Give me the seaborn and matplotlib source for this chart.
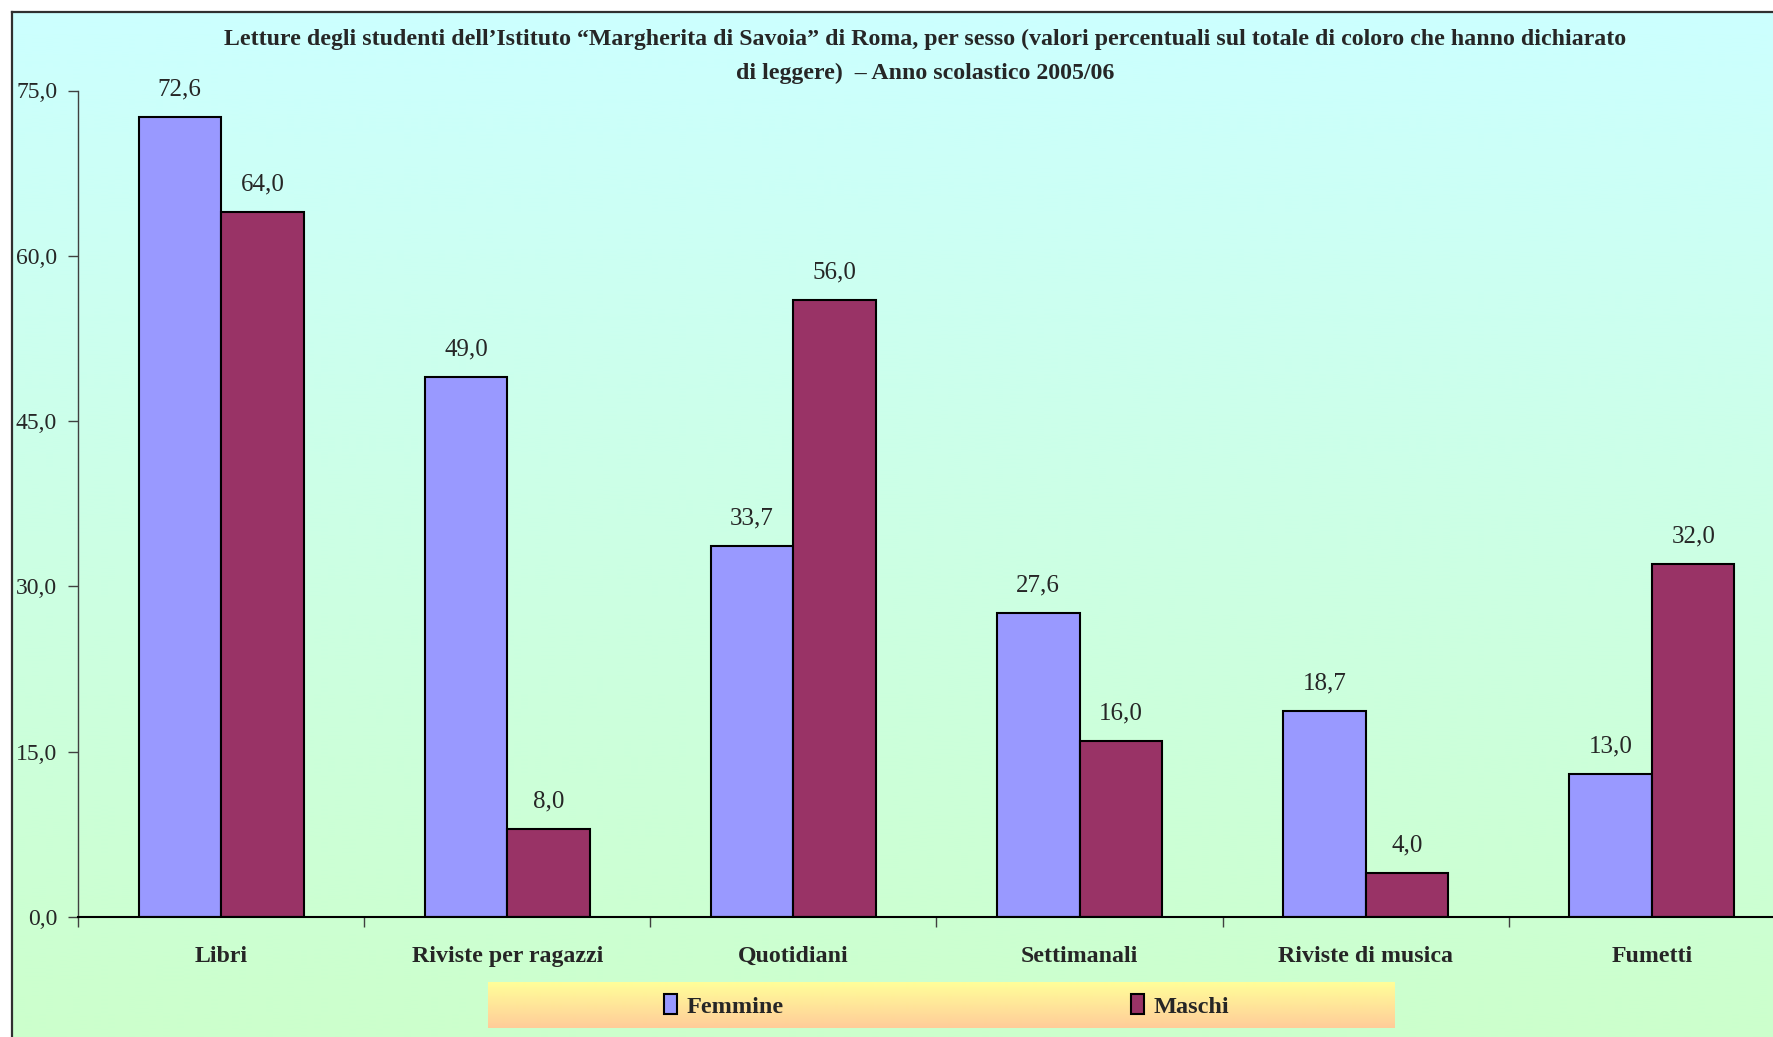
import numpy as np
import pandas as pd
import matplotlib
matplotlib.use("Agg")
import matplotlib.pyplot as plt
import seaborn as sns
from matplotlib.ticker import FuncFormatter

# --- data ---------------------------------------------------------------
categories = ["Libri", "Riviste per ragazzi", "Quotidiani", "Settimanali",
              "Riviste di musica", "Fumetti"]
femmine = [72.6, 49.0, 33.7, 27.6, 18.7, 13.0]
maschi = [64.0, 8.0, 56.0, 16.0, 4.0, 32.0]
series = ["Femmine", "Maschi"]
y_ticks = [0, 15, 30, 45, 60, 75]
title = ("Letture degli studenti dell’Istituto “Margherita di Savoia” di Roma, per sesso "
         "(valori percentuali sul totale di coloro che hanno dichiarato\n"
         "di leggere)  – Anno scolastico 2005/06")

colors = ["#9999FF", "#993366"]

df = pd.DataFrame({
    "Categoria": categories * 2,
    "Sesso": [series[0]] * len(categories) + [series[1]] * len(categories),
    "Valore": femmine + maschi,
})

sns.set_theme(style="white")
plt.rcParams["font.family"] = ["Liberation Serif", "DejaVu Serif"]

W, H = 1774, 1037
fig = plt.figure(figsize=(W / 100, H / 100), dpi=100)


def vgradient(top_rgb, bottom_rgb, n=256):
    t = np.linspace(0, 1, n)[:, None, None]
    top = np.array(top_rgb, float)[None, None, :] / 255
    bot = np.array(bottom_rgb, float)[None, None, :] / 255
    return top * (1 - t) + bot * t


def fmt_it(v):
    return f"{v:.1f}".replace(".", ",")


# chart area background: cyan to pale green
bg = fig.add_axes([12 / W, 0, 1 - 12 / W, 1 - 12 / H], zorder=0)
bg.imshow(vgradient((204, 255, 255), (204, 255, 204)), aspect="auto",
          extent=[0, 1, 0, 1], interpolation="bilinear")
bg.set_xlim(0, 1)
bg.set_ylim(0, 1)
bg.set_xticks([])
bg.set_yticks([])
for s in ["right", "bottom"]:
    bg.spines[s].set_visible(False)
for s in ["left", "top"]:
    bg.spines[s].set_linewidth(1.6)
    bg.spines[s].set_color("#303030")

# legend background: yellow to peach
lg = fig.add_axes([488 / W, (H - 1028) / H, (1395 - 488) / W, 46 / H], zorder=1)
lg.imshow(vgradient((255, 255, 153), (255, 204, 153)), aspect="auto",
          extent=[0, 1, 0, 1], interpolation="bilinear")
lg.axis("off")

# main plot
ax = fig.add_axes([78 / W, (H - 917) / H, (1795 - 78) / W, (917 - 90.5) / H], zorder=2)
ax.patch.set_alpha(0)
sns.barplot(data=df, x="Categoria", y="Valore", hue="Sesso", palette=colors,
            saturation=1, width=0.577, gap=0, edgecolor="black", linewidth=1.5,
            errorbar=None, ax=ax)

for container in ax.containers:
    ax.bar_label(container, labels=[fmt_it(v) for v in container.datavalues],
                 padding=12, fontsize=18)

ax.set_xlim(-0.5, len(categories) - 0.5)
ax.set_ylim(0, 75)
ax.set_yticks(y_ticks)
ax.yaxis.set_major_formatter(FuncFormatter(lambda v, p: fmt_it(v)))
ax.set_xticks(np.arange(-0.5, len(categories), 1.0))
ax.set_xticks(np.arange(len(categories)), minor=True)
ax.set_xticklabels(categories, minor=True, fontweight="bold")
ax.tick_params(axis="x", which="major", bottom=True, length=7, width=1,
               color="#404040", labelbottom=False)
ax.tick_params(axis="x", which="minor", bottom=True, length=0, pad=21, labelsize=17.2)
ax.tick_params(axis="y", left=True, length=7, width=1, color="#404040",
               pad=8, labelsize=17)
ax.set_xlabel("")
ax.set_ylabel("")
ax.grid(False)
for s in ["top", "right"]:
    ax.spines[s].set_visible(False)
ax.spines["left"].set_color("#404040")
ax.spines["left"].set_linewidth(1)
ax.spines["bottom"].set_color("black")
ax.spines["bottom"].set_linewidth(1.5)

handles, labels = ax.get_legend_handles_labels()
if ax.legend_ is not None:
    ax.legend_.remove()
leg = ax.legend(handles, labels, loc="center left",
                bbox_to_anchor=(664 / W, (H - 1006) / H),
                bbox_transform=fig.transFigure, ncol=2, frameon=False,
                handlelength=0.55, handleheight=0.85, handletextpad=0.37,
                columnspacing=14.3, borderpad=0, borderaxespad=0,
                prop={"size": 17.5, "weight": "bold"})

fig.text(925 / W, 1 - 56.5 / H, title, ha="center", va="center", fontsize=17.2,
         fontweight="bold", linespacing=1.75)

fig.savefig("out.png", dpi=100)
